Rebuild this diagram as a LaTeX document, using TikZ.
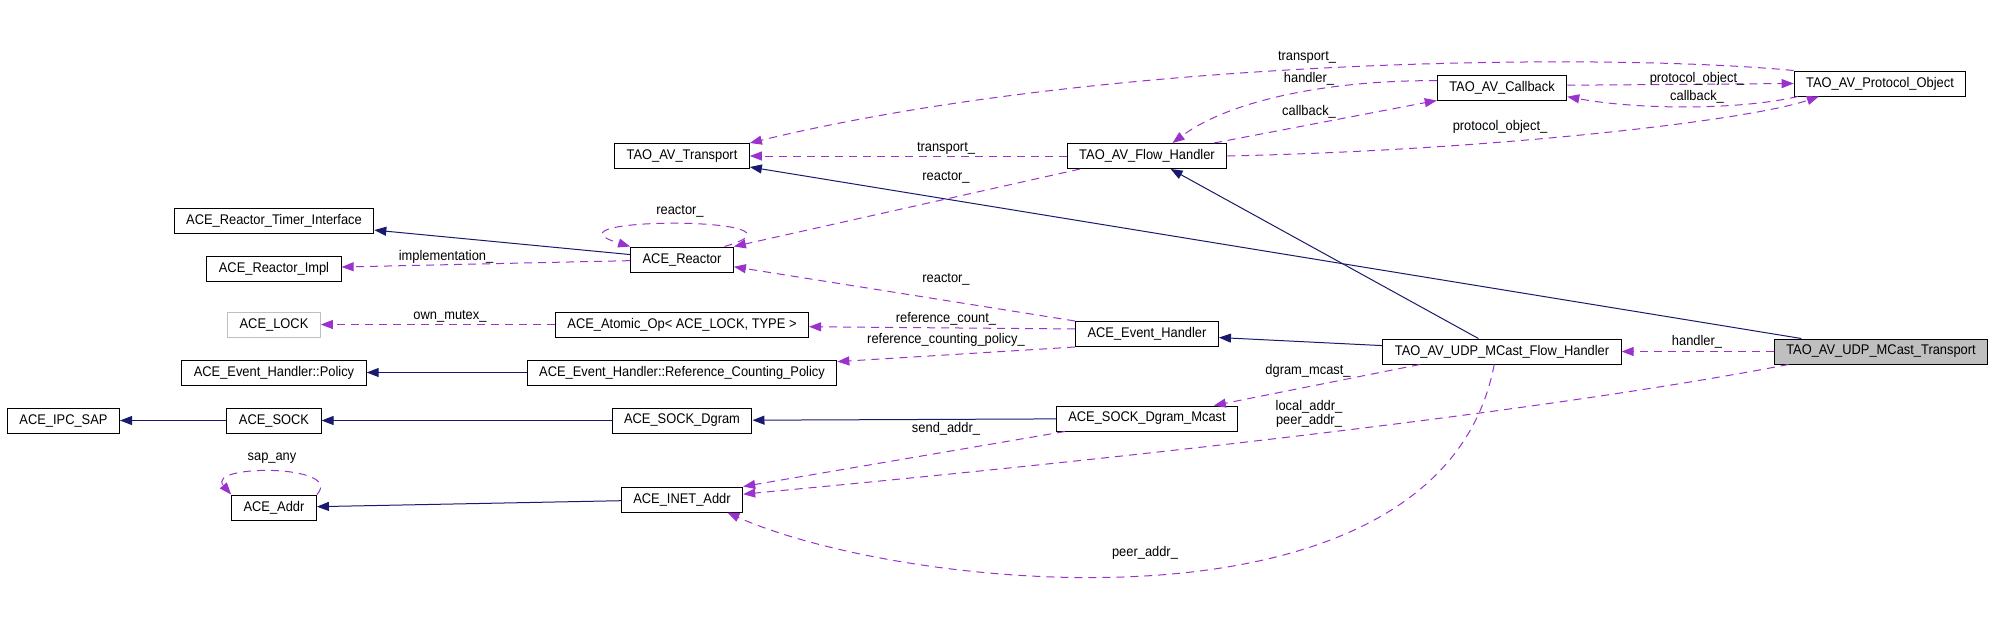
\documentclass[tikz,border=0pt]{standalone}
\usepackage{fontspec}
\setmainfont{Liberation Sans}[FakeStretch=0.92]
\usetikzlibrary{arrows.meta}
\definecolor{inhblue}{HTML}{191970}
\definecolor{usepurple}{HTML}{9A32CD}
\definecolor{boxgray}{HTML}{BFBFBF}

\begin{document}
\begin{tikzpicture}[x=0.5pt,y=-0.5pt,
  cls/.style={draw,line width=0.5pt,minimum height=12.5pt,inner xsep=6pt,inner ysep=0pt,font=\fontsize{7}{7}\selectfont},
  lbl/.style={inner sep=0pt,font=\fontsize{7}{7}\selectfont},
  inh/.style={draw=inhblue,line width=0.5pt,-{Triangle[length=6pt,width=4.5pt]}},
  uses/.style={draw=usepurple,line width=0.5pt,dash pattern=on 4pt off 3pt,-{Triangle[length=6pt,width=4.5pt]}}]
\path[use as bounding box,fill=white] (0,0) rectangle (1995,628);
% Classes
\node[cls] (po) at (1880,83.5) {TAO\_AV\_Protocol\_Object};
\node[cls] (cb) at (1502,87.5) {TAO\_AV\_Callback};
\node[cls] (tr) at (682,156) {TAO\_AV\_Transport};
\node[cls] (fh) at (1147,156) {TAO\_AV\_Flow\_Handler};
\node[cls] (rti) at (274,220.5) {ACE\_Reactor\_Timer\_Interface};
\node[cls] (react) at (682,259.5) {ACE\_Reactor};
\node[cls] (rimpl) at (274,268.5) {ACE\_Reactor\_Impl};
\node[cls,draw=boxgray] (lock) at (274,324.5) {ACE\_LOCK};
\node[cls] (atom) at (682,324.5) {ACE\_Atomic\_Op< ACE\_LOCK, TYPE >};
\node[cls] (eh) at (1147,334) {ACE\_Event\_Handler};
\node[cls] (ufh) at (1502,351.5) {TAO\_AV\_UDP\_MCast\_Flow\_Handler};
\node[cls,fill=boxgray] (utr) at (1881,351.5) {TAO\_AV\_UDP\_MCast\_Transport};
\node[cls] (pol) at (274,372.5) {ACE\_Event\_Handler::Policy};
\node[cls] (rcp) at (682,372.5) {ACE\_Event\_Handler::Reference\_Counting\_Policy};
\node[cls] (ipc) at (63.5,420.5) {ACE\_IPC\_SAP};
\node[cls] (sock) at (274,420.5) {ACE\_SOCK};
\node[cls] (dgram) at (682,420.5) {ACE\_SOCK\_Dgram};
\node[cls] (mcast) at (1147,418.5) {ACE\_SOCK\_Dgram\_Mcast};
\node[cls] (addr) at (274,507.5) {ACE\_Addr};
\node[cls] (inet) at (682,499.5) {ACE\_INET\_Addr};
% Inheritance
\draw[inh] (react) -- (rti);
\draw[inh] (utr) -- (tr);
\draw[inh] (ufh) -- (fh);
\draw[inh] (ufh) -- (eh);
\draw[inh] (rcp) -- (pol);
\draw[inh] (sock) -- (ipc);
\draw[inh] (dgram) -- (sock);
\draw[inh] (mcast) -- (dgram);
\draw[inh] (inet) -- (addr);
% Members
\draw[uses] (po.north west) .. controls (1600,52) and (1100,58) .. (tr.north east);
\draw[uses] (cb.174) .. controls (1330,80) and (1230,100) .. (fh.27);
\draw[uses] (fh.11) .. controls (1320,122) .. (cb.south west);
\draw[uses] (cb.2) -- (po.west);
\draw[uses] (po.189) .. controls (1740,110) and (1640,110) .. (cb.-8);
\draw[uses] (fh.east) .. controls (1500,150) and (1750,120) .. (po.192);
\draw[uses] (fh) -- (tr);
\draw[uses] (fh.191) -- (react.north east);
\draw[uses] (react.17) .. controls (830,216) and (530,216) .. (react.north west);
\draw[uses] (react) -- (rimpl);
\draw[uses] (eh.north west) -- (react.-8);
\draw[uses] (atom) -- (lock);
\draw[uses] (eh.176) -- (atom.-1);
\draw[uses] (eh.south west) -- (rcp.4);
\draw[uses] (utr) -- (ufh);
\draw[uses] (ufh.189) -- (mcast.11);
\draw[uses] (mcast.189) -- (inet.north east);
\draw[uses] (utr.188) .. controls (1500,420) and (1000,470) .. (inet.5);
\draw[uses] (ufh.239) .. controls (1440,650) and (900,590) .. (inet.-16);
\draw[uses] (addr.north east) .. controls (345,464) and (205,464) .. (addr.north west);
% Labels
\node[lbl] (l-tr-a) at (1307,57) {transport\_};
\node[lbl] (l-hd-a) at (1309,79) {handler\_};
\node[lbl] (l-cb-a) at (1309,112) {callback\_};
\node[lbl] (l-po-a) at (1697,79) {protocol\_object\_};
\node[lbl] (l-cb-b) at (1697,97) {callback\_};
\node[lbl] (l-po-b) at (1500,127) {protocol\_object\_};
\node[lbl] (l-tr-b) at (946,148) {transport\_};
\node[lbl] (l-re-a) at (946,177) {reactor\_};
\node[lbl] (l-re-b) at (680,211) {reactor\_};
\node[lbl] (l-impl) at (446,257) {implementation\_};
\node[lbl] (l-re-c) at (946,279) {reactor\_};
\node[lbl] (l-mutex) at (450,316) {own\_mutex\_};
\node[lbl] (l-rc) at (946,319) {reference\_count\_};
\node[lbl] (l-rcp) at (946,340) {reference\_counting\_policy\_};
\node[lbl] (l-hd-b) at (1697,342) {handler\_};
\node[lbl] (l-dgram) at (1308,371) {dgram\_mcast\_};
\node[lbl,align=center] (l-addr) at (1309,414) {local\_addr\_\\peer\_addr\_};
\node[lbl] (l-send) at (946,429) {send\_addr\_};
\node[lbl] (l-peer) at (1145,553) {peer\_addr\_};
\node[lbl] (l-sap) at (272,458) {sap\_any};
\end{tikzpicture}
\end{document}
